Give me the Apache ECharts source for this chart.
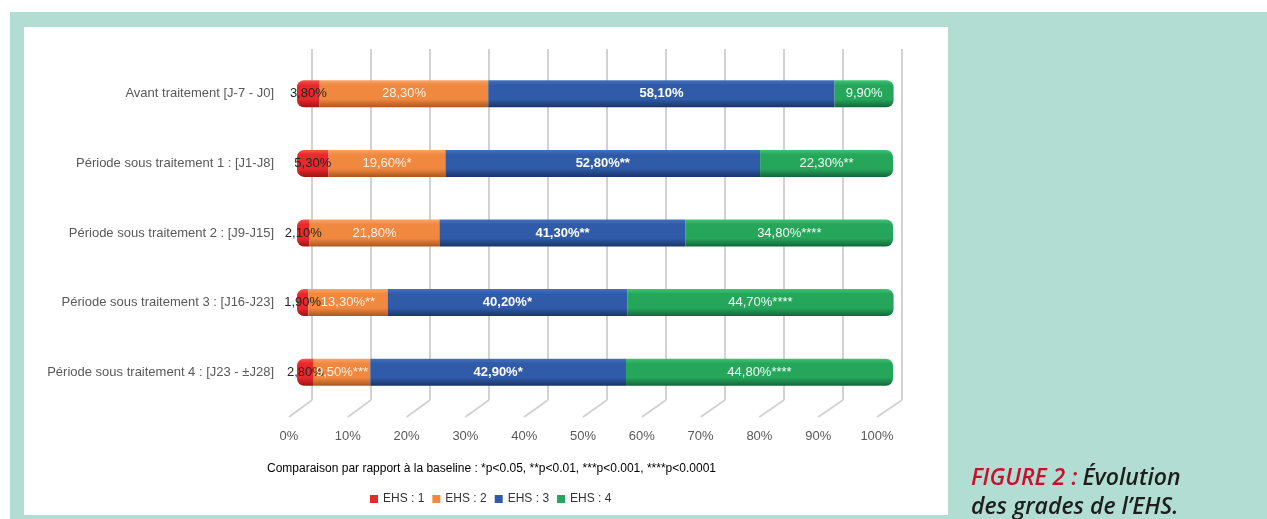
<!DOCTYPE html>
<html>
<head>
<meta charset="utf-8">
<script src="https://cdn.jsdelivr.net/npm/echarts@6/dist/echarts.min.js"></script>
<style>
  html, body { margin: 0; padding: 0; background: #ffffff; }
  #wrap { position: relative; width: 1267px; height: 519px; overflow: hidden; }
  #mint { position: absolute; left: 10px; top: 12px; width: 1257px; height: 507px; background: #b2ddd3; }
  #panel { position: absolute; left: 24px; top: 27px; width: 924px; height: 488px; background: #ffffff; }
  #chart { position: absolute; left: 0; top: 0; width: 1267px; height: 519px; }
</style>
</head>
<body>
<div id="wrap">
  <div id="mint"></div>
  <div id="panel"></div>
  <div id="chart"></div>
</div>
<script>
// ---- data ----
const categories = [
  'Avant traitement [J-7 - J0]',
  'Période sous traitement 1 : [J1-J8]',
  'Période sous traitement 2 : [J9-J15]',
  'Période sous traitement 3 : [J16-J23]',
  'Période sous traitement 4 : [J23 - ±J28]'
];
const seriesNames = ['EHS : 1', 'EHS : 2', 'EHS : 3', 'EHS : 4'];
const ehs1 = [3.8, 5.3, 2.1, 1.9, 2.8];
const ehs2 = [28.3, 19.6, 21.8, 13.3, 9.5];
const ehs3 = [58.1, 52.8, 41.3, 40.2, 42.9];
const ehs4 = [9.9, 22.3, 34.8, 44.7, 44.8];
const sig1 = ['', '', '', '', ''];
const sig2 = ['', '*', '', '**', '***'];
const sig3 = ['', '**', '**', '*', '*'];
const sig4 = ['', '**', '****', '****', '****'];
const xTickValues = [0, 10, 20, 30, 40, 50, 60, 70, 80, 90, 100];
const footnote = 'Comparaison par rapport à la baseline : *p<0.05, **p<0.01, ***p<0.001, ****p<0.0001';

// ---- styles ----
const baseColors = ['#e8282b', '#f0883f', '#2f5ba8', '#26a65b'];
const lightColors = ['#f4574a', '#f7a468', '#4471bd', '#3fc274'];
const darkColors = ['#9c1616', '#a9581f', '#1b3468', '#12663a'];
const labelColors = ['#262626', '#fff4ea', '#ffffff', '#f2fff6'];
const labelWeights = ['normal', 'normal', 'bold', 'normal'];
const radii = [[7, 0, 0, 7], 0, 0, [0, 7, 7, 0]];
const gridColor = '#d2d2d2';

function grad(i) {
  return new echarts.graphic.LinearGradient(0, 0, 0, 1, [
    { offset: 0, color: lightColors[i] },
    { offset: 0.18, color: baseColors[i] },
    { offset: 0.7, color: baseColors[i] },
    { offset: 1, color: darkColors[i] }
  ]);
}

const fmt = v => v.toFixed(2).replace('.', ',') + '%';
const values = [ehs1, ehs2, ehs3, ehs4];
const sigs = [sig1, sig2, sig3, sig4];

const chart = echarts.init(document.getElementById('chart'), null, { renderer: 'canvas' });

const barSeries = values.map((arr, i) => ({
  name: seriesNames[i],
  type: 'bar',
  stack: 'total',
  xAxisIndex: 0,
  yAxisIndex: 0,
  barWidth: 27,
  clip: false,
  zlevel: 2,
  z: 10,
  data: arr,
  emphasis: { disabled: true },
  itemStyle: { color: grad(i), borderRadius: radii[i], opacity: 1, borderWidth: 0 },
  label: {
    show: true,
    position: 'inside',
    color: labelColors[i],
    fontWeight: labelWeights[i],
    fontFamily: 'Liberation Sans, Arial, sans-serif',
    fontSize: 13,
    formatter: p => fmt(arr[p.dataIndex]) + sigs[i][p.dataIndex]
  }
}));

const option = {
  backgroundColor: 'transparent',
  animation: false,
  grid: [
    { left: 297, width: 596, top: 59, height: 348, containLabel: false },
    { left: 312, width: 590, top: 49, height: 351, containLabel: false },
    { left: 289, width: 588, top: 400, height: 17, containLabel: false }
  ],
  xAxis: [
    { gridIndex: 0, type: 'value', min: 0, max: 100, interval: 10, show: false, splitLine: { show: false } },
    {
      gridIndex: 1, type: 'value', min: 0, max: 100, interval: 10,
      axisLine: { show: false }, axisTick: { show: false }, axisLabel: { show: false },
      splitLine: { show: false }
    },
    {
      gridIndex: 2, type: 'value', min: 0, max: 100, interval: 10,
      axisLine: { show: false }, axisTick: { show: false },
      splitLine: { show: false },
      axisLabel: {
        margin: 13, color: '#595959', fontSize: 13,
        fontFamily: 'Liberation Sans, Arial, sans-serif',
        formatter: v => v + '%'
      }
    }
  ],
  yAxis: [
    {
      gridIndex: 0, type: 'category', data: categories, inverse: true,
      axisLine: { show: false }, axisTick: { show: false }, splitLine: { show: false },
      axisLabel: {
        margin: 23, color: '#595959', fontSize: 13,
        fontFamily: 'Liberation Sans, Arial, sans-serif'
      }
    },
    { gridIndex: 1, type: 'value', min: 0, max: 1, show: false, splitLine: { show: false } },
    { gridIndex: 2, type: 'value', min: 0, max: 1, show: false, splitLine: { show: false } }
  ],
  legend: {
    left: 365, top: 488,
    itemWidth: 8, itemHeight: 8, itemGap: 8, icon: 'rect',
    textStyle: { color: '#333', fontSize: 12, fontFamily: 'Liberation Sans Narrow, Arial Narrow, sans-serif' },
    data: seriesNames.map((n, i) => ({ name: n, itemStyle: { color: baseColors[i] } }))
  },
  title: [
    {
      text: footnote, left: 262, top: 458,
      textStyle: { color: '#000', fontSize: 12, fontWeight: 'normal', fontFamily: 'Liberation Sans Narrow, Arial Narrow, sans-serif' }
    },
    {
      text: '{r|FIGURE 2 :} {k|Évolution}\n{k|des grades de l’EHS.}',
      left: 966, top: 459,
      textStyle: {
        rich: {
          r: { color: '#c8102e', fontSize: 23, fontStyle: 'italic', fontWeight: 600, fontFamily: 'Open Sans, sans-serif', lineHeight: 29 },
          k: { color: '#1e1e1e', fontSize: 23, fontStyle: 'italic', fontWeight: 600, fontFamily: 'Open Sans, sans-serif', lineHeight: 29 }
        }
      }
    }
  ],
  series: barSeries.concat([
    {
      // back-wall vertical gridlines
      type: 'custom',
      xAxisIndex: 1, yAxisIndex: 1,
      silent: true, zlevel: 0, z: 0,
      data: xTickValues,
      renderItem: function (params, api) {
        const v = api.value(0);
        const bottom = api.coord([v, 0]);
        const top = api.coord([v, 1]);
        return {
          type: 'line',
          shape: { x1: bottom[0], y1: bottom[1], x2: top[0], y2: top[1] },
          style: { stroke: gridColor, lineWidth: 2 }
        };
      }
    },
    {
      // floor diagonals from front labels to back wall
      type: 'custom',
      xAxisIndex: 2, yAxisIndex: 2,
      silent: true, zlevel: 0, z: 0,
      data: xTickValues,
      renderItem: function (params, api) {
        const v = api.value(0);
        const front = api.coord([v, 0]);
        const back = chart.convertToPixel({ xAxisIndex: 1, yAxisIndex: 1 }, [v, 0]);
        return {
          type: 'line',
          shape: { x1: front[0], y1: front[1], x2: back[0], y2: back[1] },
          style: { stroke: gridColor, lineWidth: 2 }
        };
      }
    }
  ])
};

chart.setOption(option);
</script>
</body>
</html>
